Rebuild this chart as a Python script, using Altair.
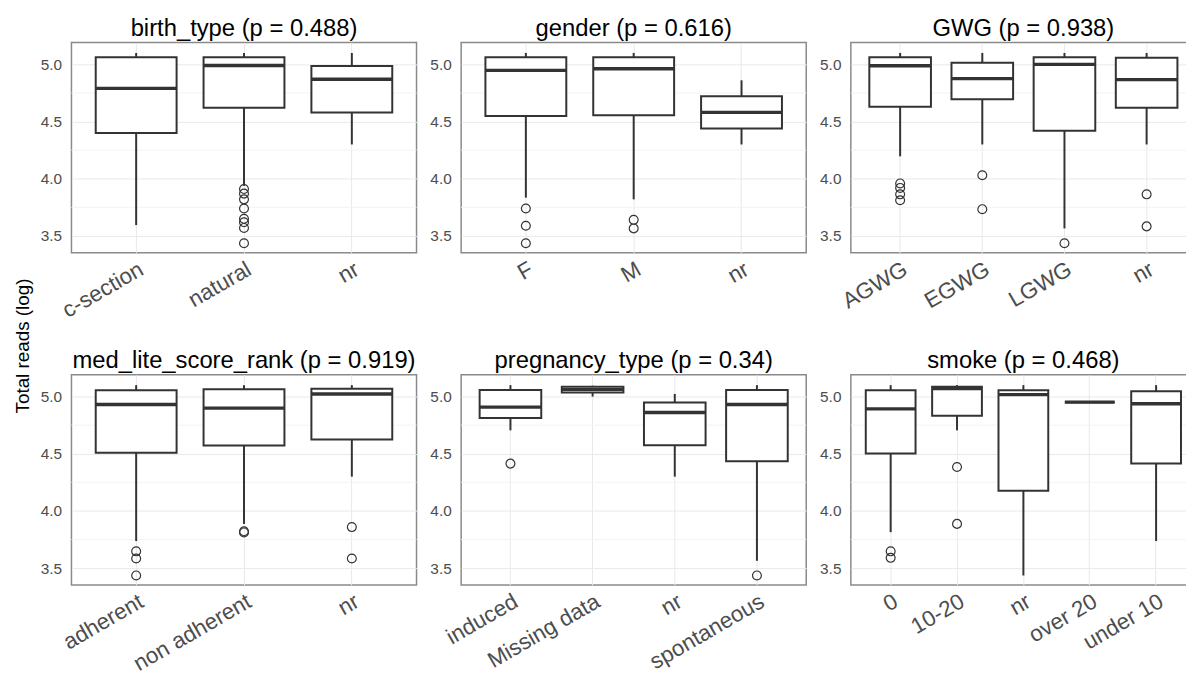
import altair as alt
import pandas as pd

FONT = "Liberation Sans"
Y_TITLE = "Total reads (log)"

# ---------------- data ----------------
birth_cats = ["c-section", "natural", "nr"]
birth_lo = [3.595, 3.94, 4.30]
birth_q1 = [4.40, 4.62, 4.58]
birth_med = [4.79, 4.99, 4.87]
birth_q3 = [5.063, 5.063, 4.985]
birth_hi = [5.10, 5.10, 5.10]
birth_out_cat = ["natural"] * 8
birth_out_val = [3.91, 3.87, 3.82, 3.74, 3.65, 3.62, 3.57, 3.436]

gender_cats = ["F", "M", "nr"]
gender_lo = [3.835, 3.82, 4.30]
gender_q1 = [4.549, 4.555, 4.439]
gender_med = [4.948, 4.962, 4.581]
gender_q3 = [5.063, 5.063, 4.722]
gender_hi = [5.10, 5.10, 4.861]
gender_out_cat = ["F", "F", "F", "M", "M"]
gender_out_val = [3.74, 3.589, 3.436, 3.641, 3.566]

gwg_cats = ["AGWG", "EGWG", "LGWG", "nr"]
gwg_lo = [4.196, 4.30, 3.566, 4.30]
gwg_q1 = [4.63, 4.696, 4.419, 4.621]
gwg_med = [4.988, 4.876, 5.0, 4.867]
gwg_q3 = [5.063, 5.014, 5.063, 5.058]
gwg_hi = [5.10, 5.10, 5.10, 5.10]
gwg_out_cat = ["AGWG", "AGWG", "AGWG", "AGWG", "EGWG", "EGWG", "LGWG", "nr", "nr"]
gwg_out_val = [3.959, 3.92, 3.864, 3.812, 4.031, 3.734, 3.436, 3.864, 3.584]

med_cats = ["adherent", "non adherent", "nr"]
med_lo = [3.737, 3.887, 4.30]
med_q1 = [4.509, 4.572, 4.624]
med_med = [4.931, 4.899, 5.023]
med_q3 = [5.055, 5.064, 5.069]
med_hi = [5.10, 5.10, 5.10]
med_out_cat = ["adherent", "adherent", "adherent", "non adherent", "non adherent", "nr", "nr"]
med_out_val = [3.647, 3.584, 3.436, 3.822, 3.812, 3.859, 3.584]

preg_cats = ["induced", "Missing data", "nr", "spontaneous"]
preg_lo = [4.705, 5.00, 4.30, 3.564]
preg_q1 = [4.812, 5.035, 4.575, 4.434]
preg_med = [4.908, 5.064, 4.861, 4.931]
preg_q3 = [5.058, 5.087, 4.948, 5.058]
preg_hi = [5.10, 5.095, 5.023, 5.10]
preg_out_cat = ["induced", "spontaneous"]
preg_out_val = [4.414, 3.436]

smoke_cats = ["0", "10-20", "nr", "over 20", "under 10"]
smoke_lo = [3.815, 4.705, 3.436, 4.951, 3.737]
smoke_q1 = [4.503, 4.833, 4.176, 4.951, 4.414]
smoke_med = [4.893, 5.069, 5.017, 4.951, 4.937]
smoke_q3 = [5.055, 5.087, 5.055, 4.951, 5.047]
smoke_hi = [5.10, 5.10, 5.10, 4.951, 5.10]
smoke_out_cat = ["0", "0", "10-20", "10-20"]
smoke_out_val = [3.647, 3.59, 4.384, 3.887]

y_ticks = [3.5, 4.0, 4.5, 5.0]
y_minor = [3.75, 4.25, 4.75]
y_domain = [3.353, 5.191]

# ---------------- layout / style ----------------
W, H = 348, 212
LINE = "#333333"
GRID = "#e9e9e9"
MINOR = "#f3f3f3"
LABEL = "#4d4d4d"


def panel(title, cats, lo, q1, med, q3, hi, out_cat, out_val):
    n = len(cats)
    step = W / (n + 0.2)
    stats = pd.DataFrame({"cat": cats, "lo": lo, "q1": q1, "med": med, "q3": q3, "hi": hi})
    outs = pd.DataFrame({"cat": out_cat, "v": out_val})
    minor = pd.DataFrame({"v": y_minor})

    xs = alt.Scale(type="band", domain=cats, paddingInner=0, paddingOuter=0.1)
    ys = alt.Scale(domain=y_domain, nice=False, zero=False)
    xax = alt.Axis(title="", labelAngle=-30, labelAlign="right", labelBaseline="top",
                   labelPadding=5, labelOverlap=False, grid=True, labelFont=FONT,
                   labelFontSize=22.5, labelColor=LABEL, labelLimit=300)
    yax = alt.Axis(title="", values=y_ticks, format=".1f", labelPadding=10, grid=True,
                   labelFont=FONT, labelFontSize=15.5, labelColor=LABEL)

    X = alt.X("cat:N", scale=xs, axis=xax, sort=cats)

    g_minor = alt.Chart(minor).mark_rule(color=MINOR, strokeWidth=1).encode(
        y=alt.Y("v:Q", scale=ys, axis=yax))
    base = alt.Chart(stats)
    lower = base.mark_rule(color=LINE, strokeWidth=2).encode(
        x=X, y=alt.Y("lo:Q", scale=ys, axis=yax), y2="q1:Q")
    upper = base.mark_rule(color=LINE, strokeWidth=2).encode(
        x=X, y=alt.Y("q3:Q", scale=ys, axis=yax), y2="hi:Q")
    box = base.mark_bar(width=alt.RelativeBandSize(0.75), fill="white", stroke=LINE,
                        strokeWidth=2).encode(
        x=X, y=alt.Y("q1:Q", scale=ys, axis=yax), y2="q3:Q")
    median = base.mark_tick(size=0.75 * step, thickness=3.4, color=LINE, opacity=1).encode(
        x=X, y=alt.Y("med:Q", scale=ys, axis=yax))
    pts = alt.Chart(outs).mark_point(shape="circle", filled=False, size=80, color=LINE,
                                     strokeWidth=1.2, opacity=1).encode(
        x=X, y=alt.Y("v:Q", scale=ys, axis=yax))

    return alt.layer(g_minor, lower, upper, box, median, pts).properties(
        width=W, height=H,
        title=alt.TitleParams(title, anchor="middle", frame="group", font=FONT,
                              fontSize=24, fontWeight="normal", color="black", offset=2))


p1 = panel("birth_type (p = 0.488)", birth_cats, birth_lo, birth_q1, birth_med, birth_q3, birth_hi,
           birth_out_cat, birth_out_val)
p2 = panel("gender (p = 0.616)", gender_cats, gender_lo, gender_q1, gender_med, gender_q3, gender_hi,
           gender_out_cat, gender_out_val)
p3 = panel("GWG (p = 0.938)", gwg_cats, gwg_lo, gwg_q1, gwg_med, gwg_q3, gwg_hi,
           gwg_out_cat, gwg_out_val)
p4 = panel("med_lite_score_rank (p = 0.919)", med_cats, med_lo, med_q1, med_med, med_q3, med_hi,
           med_out_cat, med_out_val)
p5 = panel("pregnancy_type (p = 0.34)", preg_cats, preg_lo, preg_q1, preg_med, preg_q3, preg_hi,
           preg_out_cat, preg_out_val)
p6 = panel("smoke (p = 0.468)", smoke_cats, smoke_lo, smoke_q1, smoke_med, smoke_q3, smoke_hi,
           smoke_out_cat, smoke_out_val)

row1 = alt.hconcat(p1, p2, p3, spacing=10)
row2 = alt.hconcat(p4, p5, p6, spacing=10)
grid = alt.vconcat(row1, row2, spacing=25)

ytitle = alt.Chart(pd.DataFrame({"t": [Y_TITLE]})).mark_text(
    angle=270, font=FONT, fontSize=19, color="black", align="center", baseline="middle"
).encode(text="t:N", x=alt.value(8), y=alt.value(306)).properties(
    width=18, height=600, view=alt.ViewBackground(stroke="transparent"))

chart = alt.hconcat(ytitle, grid, spacing=5).configure_view(
    stroke="#8a8a8a", strokeWidth=1.5
).configure_axis(
    labelFont=FONT, labelColor=LABEL, ticks=False, tickSize=0,
    domain=False, gridColor=GRID, gridWidth=1
).properties(
    background="white",
    padding={"left": 5, "top": 5, "right": -12, "bottom": 0},
)

chart.save("out.html", embed_options={"renderer": "svg", "actions": False})
